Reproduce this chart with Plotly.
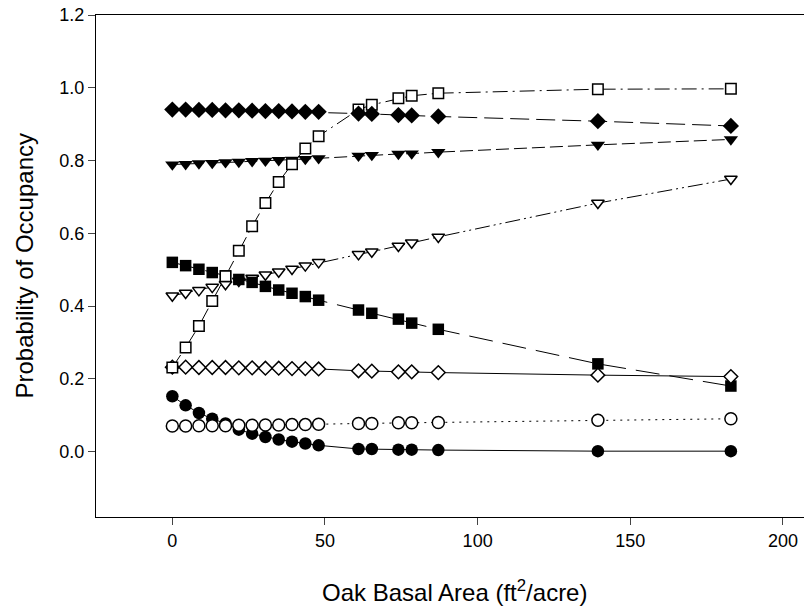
import plotly.graph_objects as go

# Oak basal area (ft^2/acre)
oak_ba = [0, 4.36, 8.71, 13.07, 17.42, 21.78, 26.14, 30.49, 34.85, 39.20, 43.56, 47.92,
          60.98, 65.34, 74.05, 78.41, 87.12, 139.39, 182.95]

filled_diamond = [0.940, 0.940, 0.939, 0.939, 0.938, 0.938, 0.937, 0.936, 0.936, 0.935, 0.934, 0.934,
                  0.929, 0.928, 0.925, 0.924, 0.921, 0.908, 0.895]
filled_tri = [0.789, 0.790, 0.792, 0.793, 0.795, 0.796, 0.798, 0.799, 0.801, 0.802, 0.804, 0.806,
              0.813, 0.815, 0.818, 0.819, 0.823, 0.843, 0.858]
open_square = [0.231, 0.286, 0.345, 0.414, 0.482, 0.552, 0.619, 0.683, 0.741, 0.790, 0.833, 0.867,
               0.940, 0.953, 0.971, 0.978, 0.985, 0.996, 0.997]
filled_square = [0.520, 0.511, 0.501, 0.492, 0.483, 0.473, 0.465, 0.454, 0.444, 0.435, 0.426, 0.416,
                 0.389, 0.380, 0.364, 0.353, 0.336, 0.241, 0.180]
open_tri = [0.428, 0.436, 0.443, 0.452, 0.460, 0.469, 0.477, 0.486, 0.494, 0.502, 0.511, 0.520,
            0.542, 0.549, 0.565, 0.574, 0.590, 0.683, 0.749]
open_diamond = [0.232, 0.232, 0.231, 0.231, 0.231, 0.230, 0.230, 0.229, 0.229, 0.228, 0.228, 0.227,
                0.222, 0.221, 0.219, 0.219, 0.217, 0.210, 0.206]
open_circle = [0.070, 0.070, 0.071, 0.071, 0.071, 0.072, 0.072, 0.073, 0.073, 0.074, 0.074, 0.075,
               0.077, 0.077, 0.079, 0.079, 0.080, 0.086, 0.090]
filled_circle = [0.152, 0.127, 0.106, 0.090, 0.077, 0.060, 0.049, 0.040, 0.033, 0.027, 0.022, 0.017,
                 0.007, 0.007, 0.005, 0.005, 0.004, 0.001, 0.001]

x_ticks = [0, 50, 100, 150, 200]
y_ticks = [0.0, 0.2, 0.4, 0.6, 0.8, 1.0, 1.2]

FONT = "Arial, Liberation Sans, sans-serif"

fig = go.Figure()


def add(y, symbol, filled, size, dash):
    fig.add_trace(go.Scatter(
        x=oak_ba, y=y, mode="lines+markers",
        line=dict(color="black", width=1, dash=dash),
        marker=dict(symbol=symbol, size=size,
                    color="black" if filled else "white",
                    line=dict(color="black", width=0 if filled else 1.5)),
        showlegend=False, cliponaxis=False,
    ))


add(filled_tri, "triangle-down", True, 12.5, "13px,5px")
add(open_tri, "triangle-down", False, 11, "15px,4px,2px,4px,2px,4px")
add(filled_square, "square", True, 11.5, "24px,10px")
add(open_diamond, "diamond", False, 10.5, "solid")
add(open_square, "square", False, 10.5, "15px,5px,2px,5px")
add(filled_diamond, "diamond", True, 12.5, "19px,7px")
add(filled_circle, "circle", True, 12.5, "solid")
add(open_circle, "circle", False, 12, "2px,5px")

fig.update_layout(
    width=804, height=609,
    margin=dict(l=96, r=0, t=15, b=92, autoexpand=False),
    paper_bgcolor="white", plot_bgcolor="white",
    font=dict(family=FONT, color="black"),
    xaxis=dict(range=[-25, 206.9], tickvals=x_ticks, ticks="outside", ticklen=7, tickwidth=1,
               showline=True, linecolor="black", linewidth=1.2, mirror=True, automargin=False,
               showgrid=False, zeroline=False, tickfont=dict(size=18)),
    yaxis=dict(range=[-0.18, 1.2], tickvals=y_ticks, tickformat=".1f", ticks="outside",
               ticklen=7, tickwidth=1, showline=True, linecolor="black", linewidth=1.2,
               mirror=False, automargin=False, showgrid=False, zeroline=False,
               tickfont=dict(size=18)),
    annotations=[
        dict(text="Oak Basal Area (ft<sup>2</sup>/acre)", xref="paper", yref="paper",
             x=0.507, y=-0.148, xanchor="center", yanchor="middle", showarrow=False,
             font=dict(size=24, family=FONT)),
        dict(text="Probability of Occupancy", xref="paper", yref="paper",
             x=-0.101, y=0.5, xanchor="center", yanchor="middle", textangle=-90,
             showarrow=False, font=dict(size=24, family=FONT)),
    ],
)

fig.write_html(
    "out.html",
    config={"displayModeBar": False},
    post_script="document.body.style.margin='0';document.body.style.overflow='hidden';",
)
